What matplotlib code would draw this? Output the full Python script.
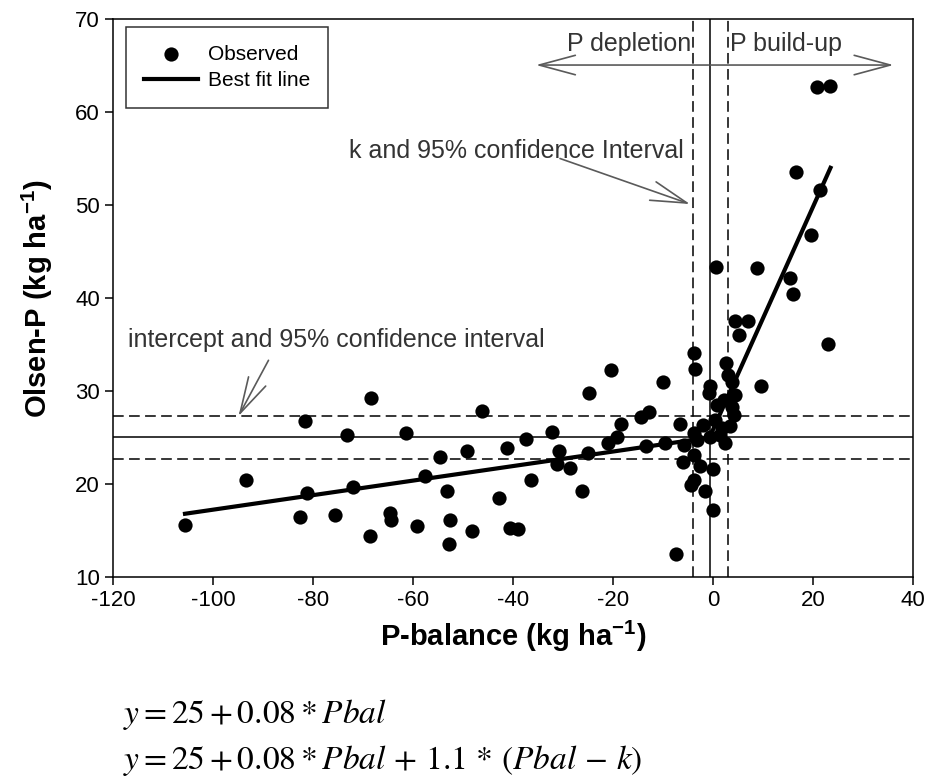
import matplotlib
matplotlib.use("Agg")
import matplotlib.pyplot as plt

plt.rcParams['font.family'] = ['Liberation Sans', 'DejaVu Sans']
plt.rcParams['mathtext.fontset'] = 'stix'
plt.rcParams['axes.unicode_minus'] = False

# Observed data (P-balance, Olsen-P)
pbal = [-105.6, -93.5, -81.6, -81.3, -82.6, -75.6, -73.3, -72.1, -68.5, -68.7,
        -64.6, -64.4, -61.5, -59.3, -57.6, -54.6, -53.3, -52.7, -52.9, -49.3,
        -48.3, -46.3, -42.9, -41.3, -40.7, -39.1, -37.5, -36.5, -32.3, -30.9,
        -31.3, -28.7, -26.3, -25.1, -24.8, -20.4, -21.1, -19.3, -18.5, -14.5,
        -12.9, -13.5, -10.1, -9.7, -6.7, -6.1, -7.4, -3.9, -3.6, -3.8,
        -3.9, -4.4, -3.8, -1.6, -0.1, -0.6, -0.9, 0.7, -0.1, -2.6,
        2.6, 2.9, 3.7, 4.4, 6.9, 5.1, 9.5, 22.9, 2.1, 3.7,
        4.1, 3.4, -0.6, 1.4, 2.4, -5.9, 20.7, 23.3, 16.6, 21.3,
        19.5, 0.6, 8.7, 15.3, 15.9, 0.4, -2.0, 1.8, 4.4, -3.2]
olsen_p = [15.6, 20.4, 26.8, 19.0, 16.4, 16.7, 25.3, 19.7, 29.3, 14.4,
           16.9, 16.1, 25.5, 15.5, 20.9, 22.9, 19.2, 16.1, 13.5, 23.5,
           14.9, 27.8, 18.5, 23.9, 15.3, 15.2, 24.8, 20.4, 25.6, 23.5,
           22.1, 21.7, 19.2, 23.3, 29.8, 32.3, 24.4, 25.1, 26.4, 27.2,
           27.7, 24.1, 31.0, 24.4, 26.5, 22.4, 12.5, 34.1, 32.4, 25.5,
           23.1, 19.9, 20.4, 19.3, 17.2, 30.5, 29.8, 28.5, 21.6, 21.9,
           33.0, 31.7, 31.0, 37.5, 37.5, 36.0, 30.5, 35.1, 29.0, 28.3,
           27.4, 26.2, 25.1, 25.3, 24.4, 24.2, 62.7, 62.8, 53.6, 51.6,
           46.8, 43.3, 43.2, 42.1, 40.4, 26.9, 26.3, 26.0, 29.6, 24.7]

# Best fit (piecewise) line
fit_x = [-105.6, -0.7, 23.5]
fit_y = [16.8, 25.0, 54.0]

# Intercept and its 95% CI; breakpoint k and its 95% CI
intercept, int_lo, int_hi = 25.1, 22.7, 27.3
k_val, k_lo, k_hi = -0.7, -4.1, 2.9

xticks = [-120, -100, -80, -60, -40, -20, 0, 20, 40]
yticks = [10, 20, 30, 40, 50, 60, 70]

fig = plt.figure(figsize=(9.3, 7.82), dpi=100)
ax = fig.add_axes([113/930, 1-577/782, 800/930, 558/782])

dash = (0, (7, 3.5))
# reference lines
ax.axhline(intercept, color='black', lw=1.1, zorder=1)
for v in (int_lo, int_hi):
    ax.axhline(v, color='black', lw=1.1, ls=dash, zorder=1)
ax.axvline(k_val, color='black', lw=1.1, zorder=1)
for v in (k_lo, k_hi):
    ax.axvline(v, color='black', lw=1.1, ls=dash, zorder=1)

ax.scatter(pbal, olsen_p, s=105, color='black', zorder=3, label='Observed', linewidths=0)
ax.plot(fit_x, fit_y, color='black', lw=3, zorder=4, label='Best fit line')

ax.set_xlim(-120, 40)
ax.set_ylim(10, 70)
ax.set_xticks(xticks)
ax.set_yticks(yticks)
ax.set_xticklabels([str(t) for t in xticks])
ax.set_yticklabels([str(t) for t in yticks])
ax.tick_params(axis='both', direction='out', length=6, width=1.1, labelsize=16,
               top=False, right=False)
for sp in ax.spines.values():
    sp.set_linewidth(1.1)

ax.set_xlabel('P-balance (kg ha$^{\\mathregular{-1}}$)', fontsize=21, fontweight='bold', labelpad=6)
ax.set_ylabel('Olsen-P (kg ha$^{\\mathregular{-1}}$)', fontsize=21, fontweight='bold', labelpad=14)

arrow_col = '#5a5a5a'
ap = dict(arrowstyle='->, head_length=1.3, head_width=0.35', color=arrow_col, lw=1.2,
          mutation_scale=20, shrinkA=0, shrinkB=0)
# build-up / depletion arrows
ax.annotate('', xy=(-35.4, 65.05), xytext=(k_val - 0.2, 65.05), arrowprops=ap)
ax.annotate('', xy=(36.1, 65.05), xytext=(k_val + 0.2, 65.05), arrowprops=ap)
ax.text(-4.4, 67.3, 'P depletion', ha='right', va='center', fontsize=18, color='#333333')
ax.text(3.4, 67.3, 'P build-up', ha='left', va='center', fontsize=18, color='#333333')

# k annotation
ax.text(-5.9, 55.8, 'k and 95% confidence Interval', ha='right', va='center',
        fontsize=18, color='#333333')
ax.annotate('', xy=(-4.6, 50.1), xytext=(-30.6, 55.0), arrowprops=ap)

# intercept annotation
ax.text(-117, 35.5, 'intercept and 95% confidence interval', ha='left', va='center',
        fontsize=18, color='#333333')
ax.annotate('', xy=(-94.9, 27.3), xytext=(-88.9, 33.3), arrowprops=ap)

leg = ax.legend(loc='upper left', bbox_to_anchor=(0.016, 0.986), borderaxespad=0,
                fontsize=15, frameon=True, fancybox=False, edgecolor='black',
                handlelength=2.6, labelspacing=0.35, borderpad=0.85, handletextpad=0.5,
                scatterpoints=1)
leg.get_frame().set_linewidth(1.1)

fig.text(123/930, 1-715/782, r'$y = 25 + 0.08 * Pbal$', fontsize=24, va='center', ha='left')
fig.text(123/930, 1-760/782,
         r'$y = 25 + 0.08 * Pbal\, +\, 1.1\, *\, (Pbal\, -\, k)$',
         fontsize=24, va='center', ha='left')

fig.savefig('out.png', dpi=100)
